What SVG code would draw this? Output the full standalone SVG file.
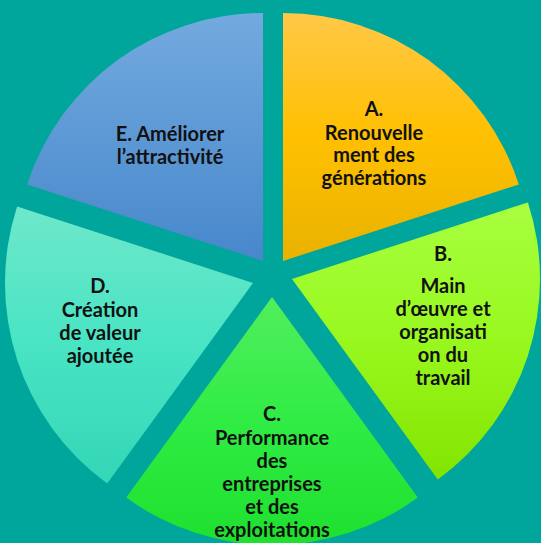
<svg xmlns="http://www.w3.org/2000/svg" width="541" height="543" viewBox="0 0 541 543">
<defs>
<linearGradient id="gE" x1="0" y1="0" x2="0" y2="1"><stop offset="0" stop-color="#73AADF"/><stop offset="1" stop-color="#4787CB"/></linearGradient>
<linearGradient id="gA" x1="0" y1="0" x2="0" y2="1"><stop offset="0" stop-color="#FFC848"/><stop offset="0.5" stop-color="#FFC000"/><stop offset="1" stop-color="#E9B200"/></linearGradient>
<linearGradient id="gB" x1="0" y1="0" x2="0" y2="1"><stop offset="0" stop-color="#A8FF40"/><stop offset="0.5" stop-color="#98F81E"/><stop offset="1" stop-color="#82E400"/></linearGradient>
<linearGradient id="gC" x1="0" y1="0" x2="0" y2="1"><stop offset="0" stop-color="#52EE5E"/><stop offset="0.5" stop-color="#30EC44"/><stop offset="1" stop-color="#1EE02E"/></linearGradient>
<linearGradient id="gD" x1="0" y1="0" x2="0" y2="1"><stop offset="0" stop-color="#6EE8CA"/><stop offset="0.5" stop-color="#48E4C4"/><stop offset="1" stop-color="#33D6B6"/></linearGradient>
</defs>
<style>
text{font-family:Lato,"Open Sans","Liberation Sans",sans-serif;font-weight:bold;font-size:20px;fill:#111;text-anchor:middle}
</style>
<rect x="0" y="0" width="541" height="543" fill="#00A59B"/>
<g id="connectors"/>
<g id="nodeE">
<path d="M263,261 L27.1,184.4 A248,248 0 0 1 263,13 Z" fill="url(#gE)"/>
<text x="170" y="141">E. Améliorer</text>
<text x="170" y="164">l’attractivité</text>
</g>
<g id="nodeA">
<path d="M283,261 L283,13 A248,248 0 0 1 518.9,184.4 Z" fill="url(#gA)"/>
<text x="374" y="116">A.</text>
<text x="374" y="139.5">Renouvelle</text>
<text x="374" y="162">ment des</text>
<text x="374" y="185">générations</text>
</g>
<g id="nodeB">
<path d="M292,279 L527.9,202.4 A248,248 0 0 1 437.8,479.6 Z" fill="url(#gB)"/>
<text x="443" y="260.5">B.</text>
<text x="443" y="292.5">Main</text>
<text x="443" y="315.5">d’œuvre et</text>
<text x="443" y="338.5">organisati</text>
<text x="443" y="362">on du</text>
<text x="443" y="385">travail</text>
</g>
<g id="nodeC">
<path d="M272,297 L417.8,497.6 A248,248 0 0 1 126.2,497.6 Z" fill="url(#gC)"/>
<text x="272" y="420.5">C.</text>
<text x="272" y="445">Performance</text>
<text x="272" y="467.5">des</text>
<text x="272" y="490.5">entreprises</text>
<text x="272" y="514">et des</text>
<text x="272" y="537">exploitations</text>
</g>
<g id="nodeD">
<path d="M253,283 L107.2,483.6 A248,248 0 0 1 17.1,206.4 Z" fill="url(#gD)"/>
<text x="100" y="292.5">D.</text>
<text x="100" y="316.5">Création</text>
<text x="100" y="340">de valeur</text>
<text x="100" y="362.5">ajoutée</text>
</g>
</svg>
